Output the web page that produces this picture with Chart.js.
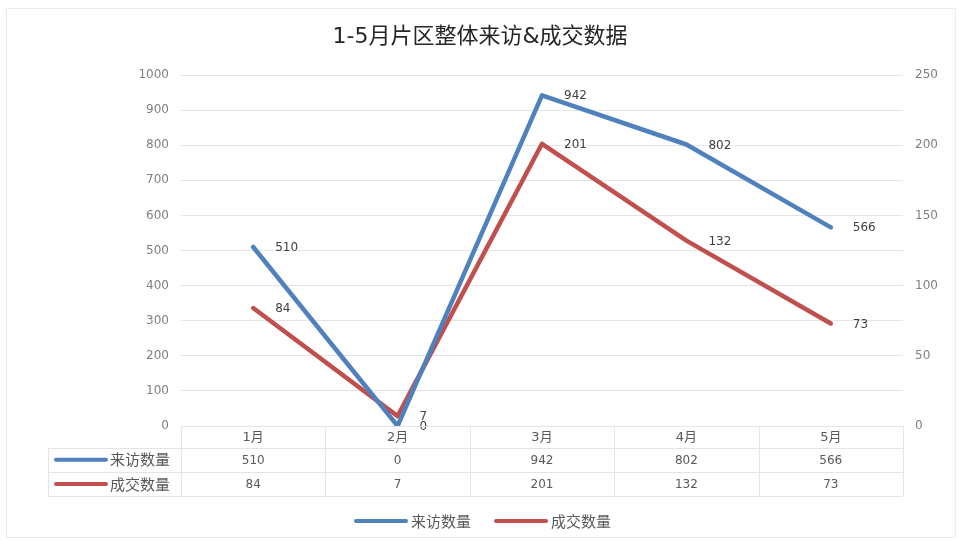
<!DOCTYPE html>
<html><head><meta charset="utf-8">
<script src="https://cdn.jsdelivr.net/npm/chart.js@4"></script>
<style>html,body{margin:0;padding:0;background:#fff}#wrap{width:960px;height:541px}</style>
</head><body><div id="wrap"><canvas id="c" width="960" height="541"></canvas></div>
<script>
const titleText = '1-5月片区整体来访&成交数据';
const categories = ['1月', '2月', '3月', '4月', '5月'];
const visitLabel = '来访数量';
const dealLabel = '成交数量';
const visits = [510, 0, 942, 802, 566];
const deals = [84, 7, 201, 132, 73];
const leftAxis = { min: 0, max: 1000, step: 100 };
const rightAxis = { min: 0, max: 250, step: 50 };

const BLUE = '#4F81BD';
const RED = '#C0504D';
const NUM_FONT = '12px "DejaVu Sans", "Noto Sans CJK SC"';
const CJK_FONT = '15px "Noto Sans CJK SC"';
const GRID = '#e4e4e4';

const framePlugin = {
  id: 'frame',
  beforeDraw(chart) {
    const ctx = chart.ctx;
    ctx.save();
    ctx.fillStyle = '#fff';
    ctx.fillRect(0, 0, chart.width, chart.height);
    ctx.strokeStyle = '#ececec';
    ctx.lineWidth = 1;
    ctx.strokeRect(6.5, 8.5, 949, 529);
    ctx.restore();
  }
};

const labelPlugin = {
  id: 'pointLabels',
  afterDatasetsDraw(chart) {
    const ctx = chart.ctx;
    ctx.save();
    ctx.font = NUM_FONT;
    ctx.fillStyle = '#404040';
    ctx.textAlign = 'left';
    ctx.textBaseline = 'middle';
    chart.data.datasets.forEach((ds, di) => {
      const meta = chart.getDatasetMeta(di);
      meta.data.forEach((pt, i) => {
        ctx.fillText(String(ds.data[i]), pt.x + 22, pt.y + 1);
      });
    });
    ctx.restore();
  }
};

const tablePlugin = {
  id: 'dataTable',
  afterDraw(chart) {
    const ctx = chart.ctx;
    const area = chart.chartArea;
    const xs = chart.scales.x;
    const n = categories.length;
    const colW = (area.right - area.left) / n;
    const top = area.bottom;
    const rowH = [21.5, 24.5, 24];
    const r1 = top + rowH[0];
    const r2 = r1 + rowH[1];
    const r3 = r2 + rowH[2];
    const tableLeft = 48;
    ctx.save();
    ctx.strokeStyle = GRID;
    ctx.lineWidth = 1;
    ctx.beginPath();
    ctx.moveTo(area.left, top + 0.5); ctx.lineTo(area.right, top + 0.5);
    [r1, r2, r3].forEach(y => { ctx.moveTo(tableLeft, Math.round(y) + 0.5); ctx.lineTo(area.right, Math.round(y) + 0.5); });
    for (let i = 0; i <= n; i++) {
      const x = Math.round(area.left + i * colW) + 0.5;
      ctx.moveTo(x, top); ctx.lineTo(x, r3);
    }
    ctx.moveTo(tableLeft + 0.5, r1); ctx.lineTo(tableLeft + 0.5, r3);
    ctx.stroke();

    ctx.fillStyle = '#595959';
    ctx.textAlign = 'center';
    ctx.textBaseline = 'middle';
    ctx.font = '13px "DejaVu Sans", "Noto Sans CJK SC"';
    categories.forEach((c, i) => {
      const cx = xs.getPixelForValue(i);
      ctx.fillText(c, cx, (top + r1) / 2 + 1);
    });
    ctx.font = NUM_FONT;
    const rows = [visits, deals];
    rows.forEach((arr, ri) => {
      const yTop = ri === 0 ? r1 : r2;
      const yBot = ri === 0 ? r2 : r3;
      arr.forEach((v, i) => {
        ctx.fillText(String(v), xs.getPixelForValue(i), (yTop + yBot) / 2 + 1);
      });
    });
    const heads = [[visitLabel, BLUE], [dealLabel, RED]];
    heads.forEach(([txt, col], ri) => {
      const y = ri === 0 ? (r1 + r2) / 2 : (r2 + r3) / 2;
      ctx.strokeStyle = col;
      ctx.lineWidth = 4;
      ctx.lineCap = 'round';
      ctx.beginPath(); ctx.moveTo(56, y); ctx.lineTo(106, y); ctx.stroke();
      ctx.font = CJK_FONT;
      ctx.textAlign = 'left';
      ctx.fillStyle = '#595959';
      ctx.fillText(txt, 110, y);
    });
    const ly = 521;
    const legendItems = [[visitLabel, BLUE, 356], [dealLabel, RED, 496]];
    legendItems.forEach(([txt, col, x0]) => {
      ctx.strokeStyle = col;
      ctx.lineWidth = 4;
      ctx.lineCap = 'round';
      ctx.beginPath(); ctx.moveTo(x0, ly); ctx.lineTo(x0 + 50, ly); ctx.stroke();
      ctx.font = CJK_FONT;
      ctx.textAlign = 'left';
      ctx.fillStyle = '#595959';
      ctx.fillText(txt, x0 + 55, ly);
    });
    ctx.restore();
  }
};

const tickFont = { family: '"DejaVu Sans"', size: 12 };
const plain = v => String(v);

new Chart(document.getElementById('c'), {
  type: 'line',
  data: {
    labels: categories,
    datasets: [
      { label: visitLabel, data: visits, borderColor: BLUE, backgroundColor: BLUE, borderWidth: 4.5, pointRadius: 0, tension: 0, yAxisID: 'y', borderJoinStyle: 'round', borderCapStyle: 'round' },
      { label: dealLabel, data: deals, borderColor: RED, backgroundColor: RED, borderWidth: 4.5, pointRadius: 0, tension: 0, yAxisID: 'y1', borderJoinStyle: 'round', borderCapStyle: 'round' }
    ]
  },
  options: {
    responsive: false,
    animation: false,
    devicePixelRatio: 1,
    layout: { padding: { left: 0, right: 0, top: 0, bottom: 115 } },
    plugins: {
      legend: { display: false },
      tooltip: { enabled: false },
      title: {
        display: true,
        text: titleText,
        color: '#262626',
        font: { family: '"DejaVu Sans", "Noto Sans CJK SC"', size: 22, weight: 'normal', lineHeight: 1.2 },
        padding: { top: 24, bottom: 24.6 }
      }
    },
    scales: {
      x: { display: false, offset: true },
      y: {
        position: 'left',
        min: leftAxis.min, max: leftAxis.max,
        afterFit(s) { s.width = 181; },
        ticks: { stepSize: leftAxis.step, padding: 12, color: '#7f7f7f', font: tickFont, callback: plain },
        grid: { color: GRID, drawTicks: false },
        border: { display: false }
      },
      y1: {
        position: 'right',
        min: rightAxis.min, max: rightAxis.max,
        afterFit(s) { s.width = 57; },
        ticks: { stepSize: rightAxis.step, padding: 12, color: '#7f7f7f', font: tickFont, callback: plain },
        grid: { display: false, drawTicks: false },
        border: { display: false }
      }
    }
  },
  plugins: [framePlugin, labelPlugin, tablePlugin]
});
</script>
</body></html>
